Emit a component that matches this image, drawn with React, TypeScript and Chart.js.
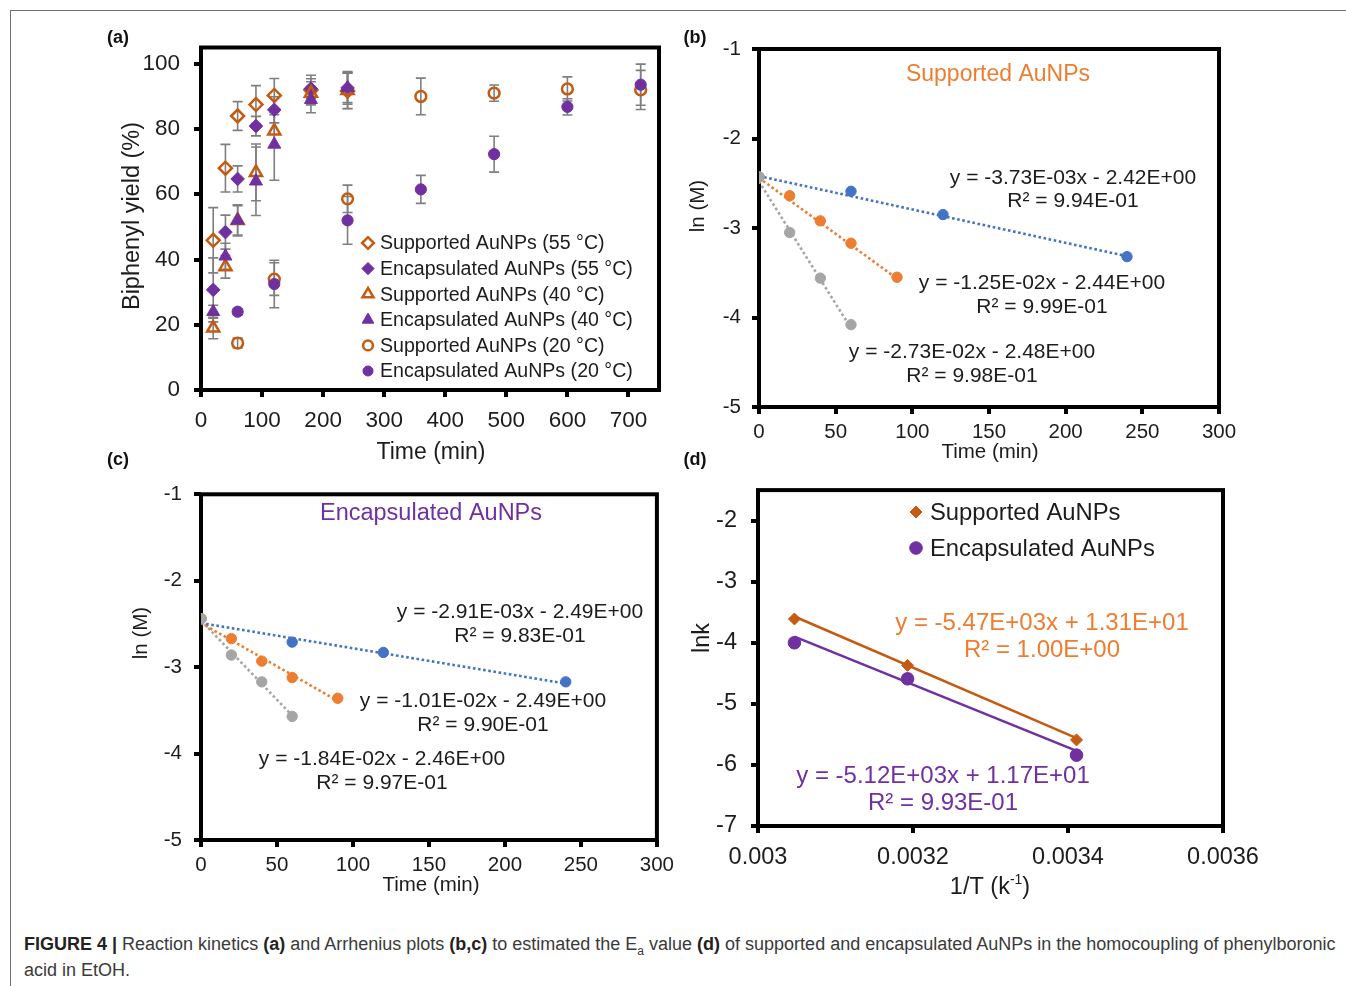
import React, { useEffect, useRef } from 'react';
import { Chart, registerables } from 'chart.js';

Chart.register(...registerables);

const FONT = '"Liberation Sans", Arial, Helvetica, sans-serif';
const INK = '#1c1c1c';
const Y_AXIS_W = 60;
const X_AXIS_H = 45;

// ---------------- Panel (a): biphenyl yield vs time ----------------
const timesHot = [20, 40, 60, 90, 120, 180, 240];
const timesCold = [60, 120, 240, 360, 480, 600, 720];
const sup55 = [45.9, 68, 84, 87.5, 90.3, 92, 91.7];
const sup55Err = [10, 7.3, 4.4, 5.8, 5.2, 4.5, 5.5];
const enc55 = [30.7, 48.4, 64.7, 80.9, 85.9, 92.4, 92.6];
const enc55Err = [9.8, 5.2, 4, 3, 4, 3, 4.5];
const sup40 = [19, 37.8, 52, 66.7, 79.4, 91, 91.8];
const sup40Err = [3.3, 3.5, 4.8, 8.7, 5, 3.5, 5.5];
const enc40 = [24, 41, 52, 64, 75.3, 89, 92.6];
const enc40Err = [2, 4, 4.5, 10.5, 11, 4, 5];
const sup20 = [14.4, 34, 58.6, 90, 91, 92.3, 92];
const sup20Err = [1.5, 5, 4.2, 5.6, 2.5, 3.7, 6];
const enc20 = [24, 32.5, 52, 61.5, 72.3, 86.8, 93.6];
const enc20Err = [1, 7.3, 7.3, 4.3, 5.5, 2.5, 6.3];
const legendA = [
  'Supported AuNPs (55 °C)',
  'Encapsulated AuNPs (55 °C)',
  'Supported AuNPs (40 °C)',
  'Encapsulated AuNPs (40 °C)',
  'Supported AuNPs (20 °C)',
  'Encapsulated AuNPs (20 °C)',
];

// ---------------- Panel (b): supported, ln(M) vs time ----------------
const tB55 = [0, 20, 40, 60];
const lnB55 = [-2.43, -3.05, -3.56, -4.08];
const tB40 = [0, 20, 40, 60, 90];
const lnB40 = [-2.43, -2.64, -2.92, -3.17, -3.55];
const tB20 = [0, 60, 120, 240];
const lnB20 = [-2.43, -2.59, -2.85, -3.32];
const fitXB55 = [0, 60];
const fitYB55 = [-2.48, -4.12];
const fitXB40 = [0, 90];
const fitYB40 = [-2.44, -3.565];
const fitXB20 = [0, 240];
const fitYB20 = [-2.42, -3.315];

// ---------------- Panel (c): encapsulated, ln(M) vs time ----------------
const tC55 = [0, 20, 40, 60];
const lnC55 = [-2.44, -2.86, -3.17, -3.57];
const tC40 = [0, 20, 40, 60, 90];
const lnC40 = [-2.44, -2.67, -2.93, -3.12, -3.36];
const tC20 = [0, 60, 120, 240];
const lnC20 = [-2.44, -2.71, -2.83, -3.17];
const fitXC55 = [0, 60];
const fitYC55 = [-2.46, -3.56];
const fitXC40 = [0, 90];
const fitYC40 = [-2.49, -3.39];
const fitXC20 = [0, 240];
const fitYC20 = [-2.49, -3.19];

// ---------------- Panel (d): Arrhenius ----------------
const invT = [0.003047, 0.003193, 0.003411];
const lnkSup = [-3.61, -4.37, -5.59];
const lnkEnc = [-4.0, -4.59, -5.84];
const fitXD = [0.003047, 0.003411];
const fitYDSup = [-3.57, -5.56];
const fitYDEnc = [-3.9, -5.77];
const legendD = ['Supported AuNPs', 'Encapsulated AuNPs'];

// ---------------- colours ----------------
const ORANGE_DK = '#C55A11';
const PURPLE = '#7030A0';
const BLUE = '#4472C4';
const ORANGE = '#ED7D31';
const GRAY = '#A5A5A5';

const pts = (xs: number[], ys: number[]) => xs.map((x, i) => ({ x, y: ys[i] }));

type Part = { t: string; size: number; dy?: number; bold?: boolean };
type Txt = {
  t?: string;
  parts?: Part[];
  x: number;
  y: number;
  size?: number;
  color?: string;
  bold?: boolean;
  rot?: boolean;
  align?: CanvasTextAlign;
};

function drawMarker(
  ctx: CanvasRenderingContext2D,
  style: string,
  x: number,
  y: number,
  r: number,
  fill: string,
  stroke: string,
  lw: number
) {
  ctx.beginPath();
  if (style === 'circle') {
    ctx.arc(x, y, r, 0, Math.PI * 2);
  } else if (style === 'rectRot') {
    ctx.moveTo(x - r, y);
    ctx.lineTo(x, y - r);
    ctx.lineTo(x + r, y);
    ctx.lineTo(x, y + r);
    ctx.closePath();
  } else if (style === 'triangle') {
    for (let k = 0; k < 3; k++) {
      const a = (k * 2 * Math.PI) / 3;
      const px = x + Math.sin(a) * r;
      const py = y - Math.cos(a) * r;
      if (k === 0) ctx.moveTo(px, py);
      else ctx.lineTo(px, py);
    }
    ctx.closePath();
  }
  if (fill && fill !== 'rgba(0,0,0,0)') {
    ctx.fillStyle = fill;
    ctx.fill();
  }
  if (lw > 0) {
    ctx.lineWidth = lw;
    ctx.strokeStyle = stroke;
    ctx.lineJoin = 'miter';
    ctx.stroke();
  }
}

function textPlugin(items: Txt[], ox: number, oy: number) {
  return {
    id: 'pageTexts',
    afterDraw(chart: any) {
      const ctx: CanvasRenderingContext2D = chart.ctx;
      for (const it of items) {
        ctx.save();
        ctx.translate(it.x - ox, it.y - oy);
        if (it.rot) ctx.rotate(-Math.PI / 2);
        ctx.fillStyle = it.color || INK;
        ctx.textBaseline = 'middle';
        if (it.parts) {
          let total = 0;
          const widths: number[] = [];
          for (const p of it.parts) {
            ctx.font = `${p.bold ? 'bold ' : ''}${p.size}px ${FONT}`;
            const w = ctx.measureText(p.t).width;
            widths.push(w);
            total += w;
          }
          let cx = -total / 2;
          ctx.textAlign = 'left';
          it.parts.forEach((p, i) => {
            ctx.font = `${p.bold ? 'bold ' : ''}${p.size}px ${FONT}`;
            ctx.fillText(p.t, cx, p.dy || 0);
            cx += widths[i];
          });
        } else {
          ctx.font = `${it.bold ? 'bold ' : ''}${it.size || 20}px ${FONT}`;
          ctx.textAlign = it.align || 'center';
          ctx.fillText(it.t || '', 0, 0);
        }
        ctx.restore();
      }
    },
  };
}

const framePlugin = {
  id: 'frame',
  beforeDatasetsDraw(chart: any) {
    const { ctx, chartArea } = chart;
    ctx.save();
    ctx.lineWidth = 4;
    ctx.strokeStyle = '#000';
    ctx.lineJoin = 'miter';
    ctx.strokeRect(chartArea.left, chartArea.top, chartArea.right - chartArea.left, chartArea.bottom - chartArea.top);
    ctx.restore();
  },
};

const errorBarPlugin = {
  id: 'errorBars',
  beforeDatasetsDraw(chart: any) {
    const ctx: CanvasRenderingContext2D = chart.ctx;
    const xs = chart.scales.x;
    const ys = chart.scales.y;
    ctx.save();
    ctx.strokeStyle = '#7f7f7f';
    ctx.lineWidth = 1.6;
    chart.data.datasets.forEach((ds: any) => {
      if (!ds.errors) return;
      ds.data.forEach((p: any, i: number) => {
        const e = ds.errors[i];
        if (!e) return;
        const px = xs.getPixelForValue(p.x);
        const top = ys.getPixelForValue(p.y + e);
        const bot = ys.getPixelForValue(p.y - e);
        ctx.beginPath();
        ctx.moveTo(px, top);
        ctx.lineTo(px, bot);
        ctx.moveTo(px - 5, top);
        ctx.lineTo(px + 5, top);
        ctx.moveTo(px - 5, bot);
        ctx.lineTo(px + 5, bot);
        ctx.stroke();
      });
    });
    ctx.restore();
  },
};

function legendPlugin(
  ox: number,
  oy: number,
  markerX: number,
  textX: number,
  y0: number,
  dy: number,
  size: number,
  scale: number
) {
  return {
    id: 'insideLegend',
    afterDraw(chart: any) {
      const ctx: CanvasRenderingContext2D = chart.ctx;
      const items = chart.data.datasets.filter((d: any) => d.inLegend);
      ctx.save();
      items.forEach((d: any, i: number) => {
        const y = y0 + i * dy - oy;
        drawMarker(
          ctx,
          d.pointStyle,
          markerX - ox,
          y,
          d.pointRadius * scale,
          d.pointBackgroundColor,
          d.pointBorderColor,
          d.pointBorderWidth
        );
        ctx.fillStyle = INK;
        ctx.font = `${size}px ${FONT}`;
        ctx.textAlign = 'left';
        ctx.textBaseline = 'middle';
        ctx.fillText(d.label, textX - ox, y + 1);
      });
      ctx.restore();
    },
  };
}

function axis(min: number, max: number, step: number, size: number, padding: number, extraTicks: any = {}) {
  return {
    type: 'linear',
    min,
    max,
    ticks: {
      stepSize: step,
      includeBounds: false,
      autoSkip: false,
      maxRotation: 0,
      minRotation: 0,
      font: { family: FONT, size },
      color: INK,
      padding,
      ...extraTicks,
    },
    grid: {
      display: true,
      drawOnChartArea: false,
      drawTicks: true,
      tickLength: 7,
      tickWidth: 4,
      tickColor: '#000',
      color: '#000',
      lineWidth: 4,
    },
    border: { display: false },
    afterFit: (s: any) => {
      if (s.isHorizontal()) s.height = X_AXIS_H;
      else s.width = Y_AXIS_W;
    },
  };
}

type PanelSpec = {
  left: number;
  top: number;
  width: number;
  height: number;
  area: { l: number; t: number; r: number; b: number };
  datasets: any[];
  x: any;
  y: any;
  plugins: any[];
};

function Panel({ spec }: { spec: PanelSpec }) {
  const ref = useRef<HTMLCanvasElement>(null);
  useEffect(() => {
    const { left, top, width, height, area } = spec;
    const chart = new Chart(ref.current as HTMLCanvasElement, {
      type: 'scatter',
      data: { datasets: spec.datasets },
      options: {
        responsive: false,
        animation: false,
        devicePixelRatio: 1,
        layout: {
          padding: {
            left: area.l - left - Y_AXIS_W,
            top: area.t - top,
            right: left + width - area.r,
            bottom: top + height - area.b - X_AXIS_H,
          },
        },
        plugins: { legend: { display: false }, tooltip: { enabled: false } },
        scales: { x: spec.x, y: spec.y },
      } as any,
      plugins: [framePlugin, ...spec.plugins],
    });
    return () => chart.destroy();
  }, []);
  return (
    <canvas
      ref={ref}
      width={spec.width}
      height={spec.height}
      style={{ position: 'absolute', left: spec.left, top: spec.top, width: spec.width, height: spec.height }}
    />
  );
}

function scatterDs(label: string, xs: number[], ys: number[], style: string, r: number, color: string, open: boolean, order: number, extra: any = {}) {
  return {
    label,
    data: pts(xs, ys),
    showLine: false,
    pointStyle: style,
    pointRadius: r,
    pointHoverRadius: r,
    pointBackgroundColor: open ? 'rgba(0,0,0,0)' : color,
    pointBorderColor: color,
    pointBorderWidth: open ? 2.5 : 1,
    backgroundColor: open ? 'rgba(0,0,0,0)' : color,
    borderColor: color,
    order,
    ...extra,
  };
}

function fitDs(xs: number[], ys: number[], color: string, dashed: boolean) {
  return {
    type: 'line',
    label: 'fit',
    data: pts(xs, ys),
    showLine: true,
    fill: false,
    borderColor: color,
    borderWidth: dashed ? 2.6 : 2.5,
    borderDash: dashed ? [2.6, 2.6] : [],
    pointRadius: 0,
    pointHoverRadius: 0,
    order: 50,
  };
}

// ---------------- specs ----------------
const specA: PanelSpec = {
  left: 90,
  top: 20,
  width: 590,
  height: 450,
  area: { l: 201, t: 47, r: 659, b: 390 },
  datasets: [
    scatterDs(legendA[0], timesHot, sup55, 'rectRot', 6.5, ORANGE_DK, true, 0, { errors: sup55Err, inLegend: true }),
    scatterDs(legendA[1], timesHot, enc55, 'rectRot', 6.8, PURPLE, false, -1, { errors: enc55Err, inLegend: true }),
    scatterDs(legendA[2], timesHot, sup40, 'triangle', 7, ORANGE_DK, true, -2, { errors: sup40Err, inLegend: true }),
    scatterDs(legendA[3], timesHot, enc40, 'triangle', 7.5, PURPLE, false, -3, { errors: enc40Err, inLegend: true }),
    scatterDs(legendA[4], timesCold, sup20, 'circle', 5.4, ORANGE_DK, true, -4, { errors: sup20Err, inLegend: true }),
    scatterDs(legendA[5], timesCold, enc20, 'circle', 5.6, PURPLE, false, -5, { errors: enc20Err, inLegend: true }),
  ],
  x: axis(0, 750, 100, 22.5, 10),
  y: axis(0, 105, 20, 22.5, 14),
  plugins: [
    errorBarPlugin,
    legendPlugin(90, 20, 368, 380, 243, 25.6, 19.6, 0.9),
    textPlugin(
      [
        { t: 'Biphenyl yield (%)', x: 133, y: 216, size: 23.5, rot: true },
        { t: 'Time (min)', x: 431, y: 453, size: 23 },
      ],
      90,
      20
    ),
  ],
};

const specB: PanelSpec = {
  left: 680,
  top: 20,
  width: 580,
  height: 450,
  area: { l: 759, t: 49, r: 1219, b: 407 },
  datasets: [
    scatterDs('55 °C', tB55, lnB55, 'circle', 5.2, GRAY, false, -2),
    scatterDs('40 °C', tB40, lnB40, 'circle', 5.2, ORANGE, false, -1),
    scatterDs('20 °C', tB20, lnB20, 'circle', 5.2, BLUE, false, 0),
    fitDs(fitXB20, fitYB20, BLUE, true),
    fitDs(fitXB40, fitYB40, ORANGE, true),
    fitDs(fitXB55, fitYB55, GRAY, true),
  ],
  x: axis(0, 300, 50, 20.5, 6),
  y: axis(-5, -1, 1, 20.5, 11),
  plugins: [
    textPlugin(
      [
        { t: 'Supported AuNPs', x: 998, y: 75, size: 23, color: ORANGE },
        { t: 'ln (M)', x: 698, y: 206, size: 20.5, rot: true },
        { t: 'Time (min)', x: 990, y: 452, size: 20.5 },
        { t: 'y = -3.73E-03x - 2.42E+00', x: 1073, y: 178, size: 21 },
        { t: 'R² = 9.94E-01', x: 1073, y: 201, size: 21 },
        { t: 'y = -1.25E-02x - 2.44E+00', x: 1042, y: 283, size: 21 },
        { t: 'R² = 9.99E-01', x: 1042, y: 307, size: 21 },
        { t: 'y = -2.73E-02x - 2.48E+00', x: 972, y: 352, size: 21 },
        { t: 'R² = 9.98E-01', x: 972, y: 376, size: 21 },
      ],
      680,
      20
    ),
  ],
};

const specC: PanelSpec = {
  left: 90,
  top: 470,
  width: 590,
  height: 440,
  area: { l: 201, t: 487, r: 662, b: 840 },
  datasets: [
    scatterDs('55 °C', tC55, lnC55, 'circle', 5.2, GRAY, false, -2),
    scatterDs('40 °C', tC40, lnC40, 'circle', 5.2, ORANGE, false, -1),
    scatterDs('20 °C', tC20, lnC20, 'circle', 5.2, BLUE, false, 0),
    fitDs(fitXC20, fitYC20, BLUE, true),
    fitDs(fitXC40, fitYC40, ORANGE, true),
    fitDs(fitXC55, fitYC55, GRAY, true),
  ],
  x: axis(0, 300, 50, 20.5, 6),
  y: axis(-5, -1, 1, 20.5, 12),
  plugins: [
    textPlugin(
      [
        { t: 'Encapsulated AuNPs', x: 431, y: 514, size: 23.5, color: PURPLE },
        { t: 'ln (M)', x: 141, y: 633, size: 20.5, rot: true },
        { t: 'Time (min)', x: 431, y: 885, size: 20.5 },
        { t: 'y = -2.91E-03x - 2.49E+00', x: 520, y: 612, size: 21 },
        { t: 'R² = 9.83E-01', x: 520, y: 636, size: 21 },
        { t: 'y = -1.01E-02x - 2.49E+00', x: 483, y: 701, size: 21 },
        { t: 'R² = 9.90E-01', x: 483, y: 725, size: 21 },
        { t: 'y = -1.84E-02x - 2.46E+00', x: 382, y: 759, size: 21 },
        { t: 'R² = 9.97E-01', x: 382, y: 783, size: 21 },
      ],
      90,
      470
    ),
  ],
};

const specD: PanelSpec = {
  left: 680,
  top: 462,
  width: 600,
  height: 448,
  area: { l: 758, t: 483, r: 1223, b: 826 },
  datasets: [
    scatterDs(legendD[0], invT, lnkSup, 'rectRot', 6, ORANGE_DK, false, 0, { inLegend: true }),
    scatterDs(legendD[1], invT, lnkEnc, 'circle', 6.3, PURPLE, false, -1, { inLegend: true }),
    fitDs(fitXD, fitYDSup, ORANGE_DK, false),
    fitDs(fitXD, fitYDEnc, PURPLE, false),
  ],
  x: axis(0.003, 0.0036, 0.0002, 23.5, 10, {
    callback: (v: any) => parseFloat(Number(v).toFixed(4)).toString(),
  }),
  y: axis(-7, -1.5, 1, 23.5, 14),
  plugins: [
    legendPlugin(680, 462, 916, 930, 512, 36, 23.8, 1),
    textPlugin(
      [
        { t: 'lnk', x: 703, y: 638, size: 23.5, rot: true },
        {
          parts: [
            { t: '1/T (k', size: 23.5 },
            { t: '-1', size: 14, dy: -8 },
            { t: ')', size: 23.5 },
          ],
          x: 990,
          y: 888,
        },
        { t: 'y = -5.47E+03x + 1.31E+01', x: 1042, y: 623, size: 24, color: ORANGE },
        { t: 'R² = 1.00E+00', x: 1042, y: 650, size: 24, color: ORANGE },
        { t: 'y = -5.12E+03x + 1.17E+01', x: 943, y: 776, size: 24, color: PURPLE },
        { t: 'R² = 9.93E-01', x: 943, y: 803, size: 24, color: PURPLE },
      ],
      680,
      462
    ),
  ],
};

const label = (t: string, x: number, y: number) => (
  <div
    style={{
      position: 'absolute',
      left: x,
      top: y,
      transform: 'translate(-50%, -50%)',
      fontFamily: FONT,
      fontWeight: 'bold',
      fontSize: 18,
      color: '#111',
      whiteSpace: 'nowrap',
    }}
  >
    {t}
  </div>
);

export default function App() {
  return (
    <div
      style={{
        position: 'fixed',
        left: 0,
        top: 0,
        width: 1346,
        height: 986,
        overflow: 'hidden',
        background: '#fff',
      }}
    >
      <div
        style={{
          position: 'absolute',
          left: 10,
          top: 10,
          width: 1336,
          height: 976,
          borderTop: '1px solid #6e6e6e',
          borderLeft: '1px solid #6e6e6e',
          boxSizing: 'border-box',
        }}
      />
      <Panel spec={specA} />
      <Panel spec={specB} />
      <Panel spec={specC} />
      <Panel spec={specD} />
      {label('(a)', 118, 37)}
      {label('(b)', 695, 37)}
      {label('(c)', 118, 459)}
      {label('(d)', 695, 459)}
      <div
        style={{
          position: 'absolute',
          left: 24,
          top: 931,
          fontFamily: FONT,
          fontSize: 18,
          lineHeight: '26px',
          color: '#3a3a3a',
          whiteSpace: 'nowrap',
        }}
      >
        <b style={{ color: '#222' }}>FIGURE 4 |</b> Reaction kinetics <b style={{ color: '#222' }}>(a)</b> and Arrhenius
        plots <b style={{ color: '#222' }}>(b,c)</b> to estimated the E
        <sub style={{ fontSize: 12, lineHeight: 0 }}>a</sub> value <b style={{ color: '#222' }}>(d)</b> of supported and
        encapsulated AuNPs in the homocoupling of phenylboronic
        <br />
        acid in EtOH.
      </div>
    </div>
  );
}
